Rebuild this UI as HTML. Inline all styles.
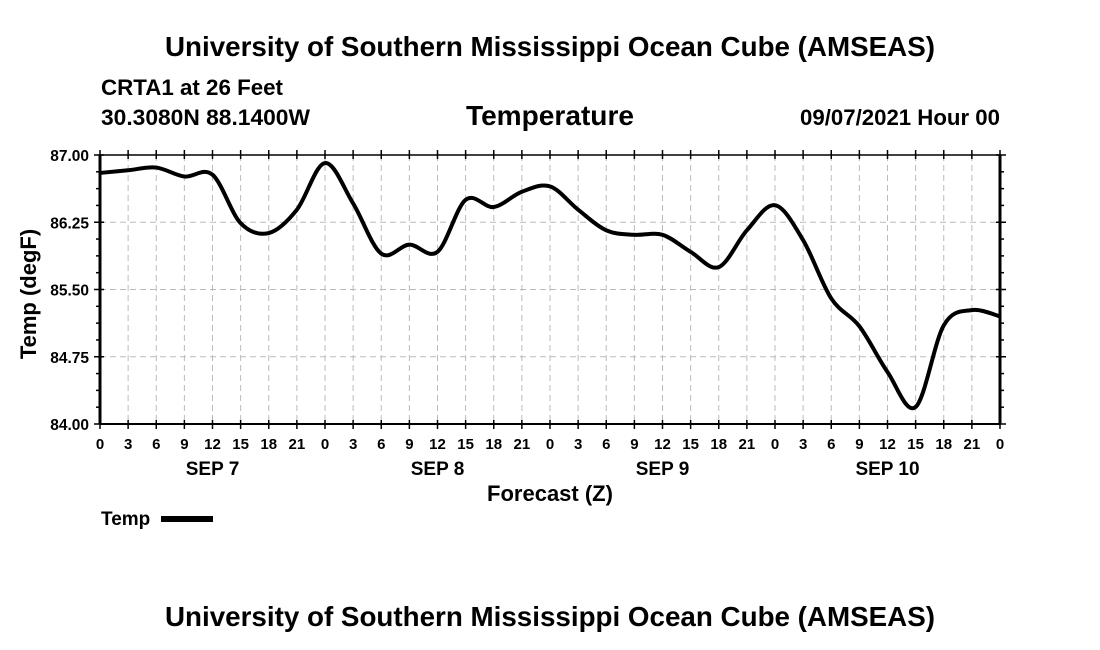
<!DOCTYPE html>
<html><head><meta charset="utf-8"><style>
body{margin:0;background:#fff;}
svg{display:block;font-family:"Liberation Sans",sans-serif;font-weight:bold;}
</style></head><body>
<svg width="1100" height="650" viewBox="0 0 1100 650">
<text x="550" y="56" text-anchor="middle" font-size="24" textLength="770" lengthAdjust="spacingAndGlyphs" style="font-size:27.5px">University of Southern Mississippi Ocean Cube (AMSEAS)</text>
<text x="101" y="95" font-size="22" textLength="182" lengthAdjust="spacingAndGlyphs">CRTA1 at 26 Feet</text>
<text x="101" y="125" font-size="22" textLength="209" lengthAdjust="spacingAndGlyphs">30.3080N  88.1400W</text>
<text x="550" y="125" text-anchor="middle" font-size="28" textLength="168" lengthAdjust="spacingAndGlyphs">Temperature</text>
<text x="1000" y="125" text-anchor="end" font-size="22" textLength="200" lengthAdjust="spacingAndGlyphs">09/07/2021 Hour 00</text>
<g id="grid"></g>
<g id="axes"></g>
<path id="line" fill="none" stroke="#000" stroke-width="4" stroke-linejoin="round"/>
<text x="36" y="294" transform="rotate(-90 36 294)" text-anchor="middle" font-size="22">Temp (degF)</text>
<text x="550" y="501" text-anchor="middle" font-size="22">Forecast (Z)</text>
<text x="101" y="525" font-size="19">Temp</text>
<rect x="161" y="516" width="52" height="6" fill="#000"/>
<text x="550" y="626" text-anchor="middle" textLength="770" lengthAdjust="spacingAndGlyphs" style="font-size:27.5px">University of Southern Mississippi Ocean Cube (AMSEAS)</text>
</svg>
<script>
const hours=[0,3,6,9,12,15,18,21,24,27,30,33,36,39,42,45,48,51,54,57,60,63,66,69,72,75,78,81,84,87,90,93,96];
const temps=[86.80,86.83,86.86,86.76,86.78,86.24,86.13,86.39,86.91,86.46,85.90,86.00,85.92,86.50,86.42,86.59,86.65,86.39,86.16,86.11,86.11,85.92,85.75,86.16,86.44,86.05,85.40,85.09,84.58,84.19,85.10,85.27,85.20];
const yTicks=["84.00","84.75","85.50","86.25","87.00"];
const days=["SEP 7","SEP 8","SEP 9","SEP 10"];
const X0=100,X1=1000,Y0=424,Y1=155,NS="http://www.w3.org/2000/svg";
const xs=h=>X0+(h/96)*(X1-X0);
const ys=v=>Y0-(v-84)/3*(Y0-Y1);
function mk(tag,attrs,parent){const e=document.createElementNS(NS,tag);for(const k in attrs)e.setAttribute(k,attrs[k]);parent.appendChild(e);return e;}
const grid=document.getElementById('grid'),axes=document.getElementById('axes');
for(let h=0;h<=96;h+=3){
 const x=xs(h);
 if(h>0&&h<96){const l=mk('line',{x1:x,x2:x,y1:Y1,y2:Y0,stroke:'#bbb','stroke-dasharray':'6,4'},grid);
 
 }
 mk('line',{x1:x,x2:x,y1:Y0-4,y2:Y0+5,stroke:'#000','stroke-width':1.5},axes);
 mk('line',{x1:x,x2:x,y1:Y1+4,y2:Y1-5,stroke:'#000','stroke-width':1.5},axes);
 const t=mk('text',{x:x,y:Y0+25,'text-anchor':'middle','font-size':15},axes);
 t.textContent=String(h%24);
 
 
}
days.forEach((d,i)=>{const t=mk('text',{x:xs(i*24+12),y:475,'text-anchor':'middle','font-size':19},axes);t.textContent=d;
 
 });
yTicks.forEach((s,i)=>{const v=parseFloat(s),y=ys(v);
 if(i>0&&i<yTicks.length-1){const l=mk('line',{x1:X0,x2:X1,y1:y,y2:y,stroke:'#bbb','stroke-dasharray':'6,4'},grid);
 
 }
 mk('line',{x1:X0-6,x2:X0+4,y1:y,y2:y,stroke:'#000','stroke-width':1.5},axes);
 mk('line',{x1:X1+6,x2:X1-4,y1:y,y2:y,stroke:'#000','stroke-width':1.5},axes);
 const t=mk('text',{x:X0-11,y:y+6,'text-anchor':'end','font-size':15.5},axes);t.textContent=s;
 
 
 if(i<yTicks.length-1)for(let k=1;k<4;k++){const yy=ys(v+k*0.1875);
  mk('line',{x1:X0-4,x2:X0,y1:yy,y2:yy,stroke:'#000','stroke-width':1.5},axes);
  mk('line',{x1:X1+4,x2:X1,y1:yy,y2:yy,stroke:'#000','stroke-width':1.5},axes);}
});
mk('rect',{x:X0,y:Y1,width:X1-X0,height:Y0-Y1,fill:'none',stroke:'#000','stroke-width':1.5},axes);
mk('line',{x1:X0,x2:X0,y1:Y1,y2:Y0,stroke:'#000','stroke-width':3},axes);
mk('line',{x1:X1,x2:X1,y1:Y1,y2:Y0,stroke:'#000','stroke-width':3},axes);
mk('line',{x1:X0,x2:X1,y1:Y0,y2:Y0,stroke:'#000','stroke-width':2},axes);
const P=hours.map((h,i)=>[xs(h),ys(temps[i])]);
let d='M'+P[0][0]+','+P[0][1];
for(let i=0;i<P.length-1;i++){const p0=P[i-1]||P[i],p1=P[i],p2=P[i+1],p3=P[i+2]||p2;
 const c1=[p1[0]+(p2[0]-p0[0])/6,p1[1]+(p2[1]-p0[1])/6],c2=[p2[0]-(p3[0]-p1[0])/6,p2[1]-(p3[1]-p1[1])/6];
 d+=' C'+c1+' '+c2+' '+p2;}
document.getElementById('line').setAttribute('d',d);
</script>
</body></html>
